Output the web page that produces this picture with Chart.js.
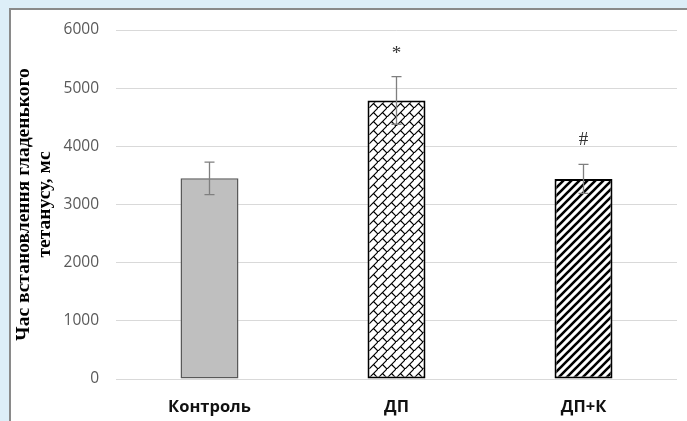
<!DOCTYPE html>
<html>
<head>
<meta charset="utf-8">
<script src="https://cdn.jsdelivr.net/npm/chart.js@4/dist/chart.umd.min.js"></script>
<style>
  html, body { margin: 0; padding: 0; background: #ddeef8; }
  #wrap { width: 687px; height: 421px; position: relative; }
</style>
</head>
<body>
<div id="wrap"><canvas id="c" width="687" height="421"></canvas></div>
<script>
// Groups, mean times and standard errors
const groups = ['Контроль', 'ДП', 'ДП+К'];
const meanTime = [3450, 4790, 3440];
const errTime = [280, 410, 250];
const marks = ['', '*', '#'];
const yTicks = [0, 1000, 2000, 3000, 4000, 5000, 6000];

// Fill patterns for the bars
function brickPattern() {
  const s = 9;
  const t = document.createElement('canvas');
  t.width = s; t.height = s;
  const g = t.getContext('2d');
  g.fillStyle = '#fff'; g.fillRect(0, 0, s, s);
  g.strokeStyle = '#000'; g.lineWidth = 1.2;
  g.beginPath();
  g.moveTo(-1, s + 1); g.lineTo(s + 1, -1);
  g.moveTo(s / 2, s / 2); g.lineTo(s + 1, s + 1);
  g.stroke();
  return g.createPattern(t, 'repeat');
}
function stripePattern() {
  const s = 8;
  const t = document.createElement('canvas');
  t.width = s; t.height = s;
  const g = t.getContext('2d');
  g.fillStyle = '#fff'; g.fillRect(0, 0, s, s);
  g.strokeStyle = '#000'; g.lineWidth = 2.6;
  g.beginPath();
  g.moveTo(-2, s + 2); g.lineTo(s + 2, -2);
  g.moveTo(-2, 2); g.lineTo(2, -2);
  g.moveTo(s - 2, s + 2); g.lineTo(s + 2, s - 2);
  g.stroke();
  return g.createPattern(t, 'repeat');
}

// Light blue page with a white framed panel
const panelPlugin = {
  id: 'panel',
  beforeDraw(chart) {
    const ctx = chart.ctx;
    ctx.save();
    ctx.fillStyle = '#ddeef8';
    ctx.fillRect(0, 0, chart.width, chart.height);
    ctx.fillStyle = '#ffffff';
    ctx.fillRect(10, 9, chart.width, chart.height);
    ctx.strokeStyle = '#8a8a8a';
    ctx.lineWidth = 2;
    ctx.beginPath();
    ctx.moveTo(10, chart.height + 5);
    ctx.lineTo(10, 9);
    ctx.lineTo(chart.width + 5, 9);
    ctx.stroke();
    ctx.restore();
  }
};

// Error bars and significance marks
const errorPlugin = {
  id: 'errbars',
  afterDatasetsDraw(chart) {
    const ctx = chart.ctx;
    const y = chart.scales.y;
    const meta = chart.getDatasetMeta(0);
    ctx.save();
    meta.data.forEach((bar, i) => {
      const x = bar.x;
      const hi = y.getPixelForValue(meanTime[i] + errTime[i]);
      const lo = y.getPixelForValue(meanTime[i] - errTime[i]);
      ctx.strokeStyle = '#7f7f7f';
      ctx.lineWidth = 1.3;
      ctx.beginPath();
      ctx.moveTo(x, hi); ctx.lineTo(x, lo);
      ctx.moveTo(x - 5, hi); ctx.lineTo(x + 5, hi);
      ctx.moveTo(x - 5, lo); ctx.lineTo(x + 5, lo);
      ctx.stroke();
      if (marks[i]) {
        ctx.fillStyle = '#333333';
        ctx.font = '19px "Liberation Serif"';
        ctx.textAlign = 'center';
        ctx.textBaseline = 'middle';
        ctx.fillText(marks[i], x, hi - (marks[i] === '*' ? 23 : 24));
      }
    });
    ctx.restore();
  }
};

new Chart(document.getElementById('c'), {
  type: 'bar',
  data: {
    labels: groups,
    datasets: [{
      data: meanTime,
      backgroundColor: ['#bfbfbf', brickPattern(), stripePattern()],
      borderColor: ['#595959', '#000000', '#000000'],
      borderWidth: [1.5, 2, 2],
      borderSkipped: false,
      barPercentage: 0.31,
      categoryPercentage: 1
    }]
  },
  options: {
    responsive: false,
    animation: false,
    devicePixelRatio: 1,
    layout: { padding: { top: 30, right: 10, left: 0, bottom: 0 } },
    plugins: { legend: { display: false }, tooltip: { enabled: false } },
    scales: {
      x: {
        grid: { display: false, drawTicks: false },
        border: { display: false },
        ticks: {
          color: '#111111',
          padding: 18,
          font: { family: '"Open Sans"', size: 16.5, weight: 'bold' }
        },
        afterFit(s) { s.height = 42; }
      },
      y: {
        min: 0,
        max: 6000,
        afterBuildTicks(s) { s.ticks = yTicks.map(v => ({ value: v })); },
        grid: { color: '#d9d9d9', lineWidth: 1, drawTicks: false },
        border: { display: false },
        ticks: {
          color: '#595959',
          padding: 17,
          font: { family: '"Open Sans"', size: 15.5 },
          callback: v => String(v)
        },
        title: {
          display: true,
          text: ['Час встановлення гладенького', 'тетанусу, мс'],
          color: '#000000',
          font: { family: '"Liberation Serif"', size: 19.5, weight: 'bold', lineHeight: 1.1 },
          padding: { top: 13, bottom: 0 }
        },
        afterFit(s) { s.width = 116; }
      }
    }
  },
  plugins: [panelPlugin, errorPlugin]
});
</script>
</body>
</html>
